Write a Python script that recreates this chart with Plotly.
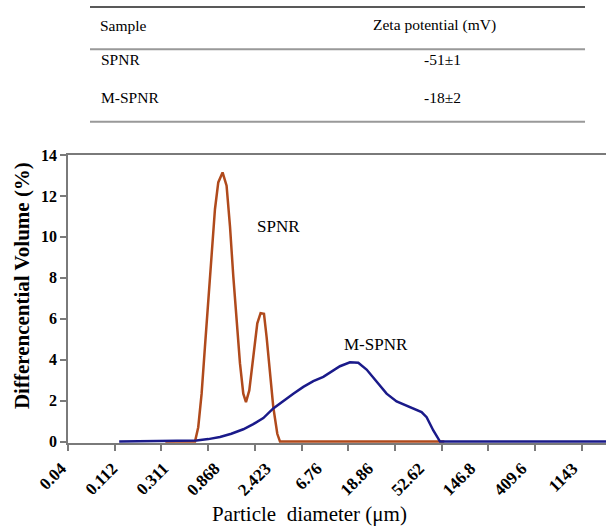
import plotly.graph_objects as go

# ---- data ----
table_samples = ["SPNR", "M-SPNR"]
table_zeta = ["-51±1", "-18±2"]

spnr_d = [0.28, 0.508, 0.542, 0.580, 0.620, 0.663, 0.708, 0.758, 0.810, 0.883, 0.957,
          1.025, 1.095, 1.170, 1.252, 1.338, 1.412, 1.509, 1.635, 1.772, 1.893, 2.026,
          2.135, 2.286, 2.442, 2.646, 2.794, 75.4]
spnr_v = [0, 0, 0.7, 2.34, 4.63, 6.93, 9.22, 11.35, 12.66, 13.15, 12.5,
          10.5, 8.07, 5.78, 3.82, 2.34, 1.93, 2.5, 4.14, 5.78, 6.27, 6.24,
          5.12, 3.32, 1.68, 0.38, 0, 0]

mspnr_d = [0.111, 0.329, 0.524, 0.663, 0.838, 1.052, 1.338, 1.635, 2.0, 2.44, 2.98,
           3.65, 4.46, 5.45, 6.66, 8.14, 9.30, 11.37, 13.43, 15.87, 19.40, 23.70,
           28.97, 37.9, 47.8, 52.9, 60.5, 69.2, 2100]
mspnr_v = [0, 0.02, 0.05, 0.12, 0.22, 0.38, 0.6, 0.85, 1.15, 1.62, 2.0,
           2.34, 2.67, 2.95, 3.16, 3.45, 3.68, 3.87, 3.85, 3.52, 2.91, 2.34,
           1.96, 1.68, 1.44, 1.19, 0.54, 0, 0]

size_vals = [0.04, 0.112, 0.311, 0.868, 2.423, 6.76, 18.86, 52.62, 146.8, 409.6, 1143]
size_labels = ["0.04", "0.112", "0.311", "0.868", "2.423", "6.76", "18.86", "52.62",
               "146.8", "409.6", "1143"]
y_ticks = [0, 2, 4, 6, 8, 10, 12, 14]

SERIF = "Liberation Serif"
C_SPNR = "#b04a1c"
C_MSPNR = "#1a1a8a"
AXC = "#7a7a7a"

fig = go.Figure()
fig.add_trace(go.Scatter(x=spnr_d, y=spnr_v, mode="lines", name="SPNR",
                         line=dict(color=C_SPNR, width=2.5), showlegend=False))
fig.add_trace(go.Scatter(x=mspnr_d, y=mspnr_v, mode="lines", name="M-SPNR",
                         line=dict(color=C_MSPNR, width=2.5), showlegend=False))
# helper trace for the tick-mark axis
fig.add_trace(go.Scatter(x=[None], y=[None], xaxis="x2", yaxis="y",
                         showlegend=False, hoverinfo="skip"))

fig.update_layout(
    width=606, height=530,
    margin=dict(l=68, r=0, t=155, b=87),
    plot_bgcolor="white", paper_bgcolor="white",
    showlegend=False,
    xaxis=dict(type="log", range=[-1.4005, 3.2860],
               tickvals=size_vals, ticktext=size_labels, tickangle=-45,
               ticks="outside", ticklen=7, tickcolor="rgba(0,0,0,0)",
               ticklabelshift=-7,
               tickfont=dict(family=SERIF, size=17, color="black", weight="bold"),
               showgrid=False, zeroline=False,
               showline=True, linecolor=AXC, linewidth=1.5, mirror=True),
    xaxis2=dict(overlaying="x", anchor="y", side="bottom", range=[0, 11.52],
                tick0=0, dtick=1, ticks="outside", ticklen=7, tickcolor=AXC,
                tickwidth=1.5, showticklabels=False, showgrid=False,
                zeroline=False, showline=False),
    yaxis=dict(range=[-0.07, 14.0], tickvals=y_ticks, ticks="outside", ticklen=6,
               tickcolor=AXC, tickwidth=1.5,
               tickfont=dict(family=SERIF, size=16, color="black", weight="bold"),
               showgrid=False, zeroline=False,
               showline=True, linecolor=AXC, linewidth=1.5),
)

ann = []
# axis titles
ann.append(dict(text="Differencential Volume (%)", xref="paper", yref="paper",
                x=-0.0855, y=0.545, xanchor="center", yanchor="middle",
                textangle=-90, showarrow=False,
                font=dict(family=SERIF, size=21, color="black", weight="bold")))
ann.append(dict(text="Particle  diameter (μm)", xref="paper", yref="paper",
                x=0.448, y=-0.2465, xanchor="center", yanchor="middle", showarrow=False,
                font=dict(family=SERIF, size=21, color="black")))
# curve labels
ann.append(dict(text="SPNR", x=0.431, y=10.5, xref="x", yref="y", showarrow=False,
                font=dict(family=SERIF, size=17, color="black")))
ann.append(dict(text="M-SPNR", x=1.286, y=4.72, xref="x", yref="y", showarrow=False,
                font=dict(family=SERIF, size=17, color="black")))

# table
tf = dict(family=SERIF, size=15.5, color="black")
ann.append(dict(text="Sample", xref="paper", yref="paper", x=0.0558, y=1.451,
                xanchor="left", yanchor="middle", showarrow=False, font=tf))
ann.append(dict(text="Zeta potential (mV)", xref="paper", yref="paper", x=0.682,
                y=1.451, xanchor="center", yanchor="middle", showarrow=False, font=tf))
row_y = [1.330, 1.201]
for s, z, ry in zip(table_samples, table_zeta, row_y):
    ann.append(dict(text=s, xref="paper", yref="paper", x=0.058, y=ry,
                    xanchor="left", yanchor="middle", showarrow=False, font=tf))
    ann.append(dict(text=z, xref="paper", yref="paper", x=0.697, y=ry,
                    xanchor="center", yanchor="middle", showarrow=False, font=tf))

fig.update_layout(annotations=ann)
fig.update_layout(shapes=[
    dict(type="line", xref="paper", yref="paper", x0=0.0409, x1=0.961, y0=1.514, y1=1.514,
         line=dict(color="#222222", width=1.5)),
    dict(type="line", xref="paper", yref="paper", x0=0.0409, x1=0.961, y0=1.367, y1=1.367,
         line=dict(color="#999999", width=2)),
    dict(type="line", xref="paper", yref="paper", x0=0.0409, x1=0.961, y0=1.1156, y1=1.1156,
         line=dict(color="#999999", width=2)),
])

fig.write_html("out.html")
